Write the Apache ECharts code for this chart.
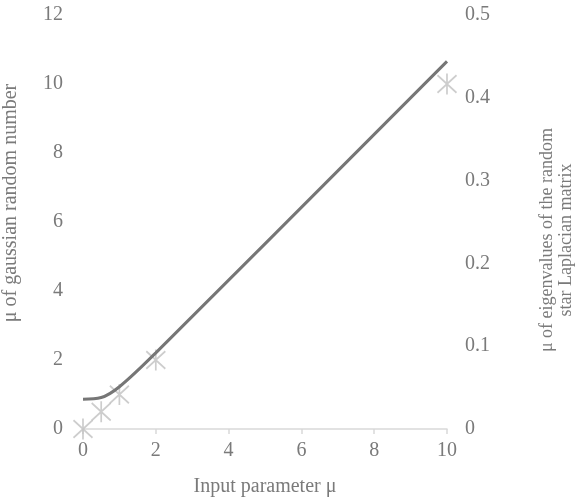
<!DOCTYPE html>
<html>
<head>
<meta charset="utf-8">
<script src="https://cdn.jsdelivr.net/npm/echarts@6/dist/echarts.min.js"></script>
<style>html,body{margin:0;padding:0;background:#fff;}#c{width:575px;height:504px;}</style>
</head>
<body>
<div id="c"></div>
<script>
// Data
var inputMu = [0, 0.5, 1, 2, 10];
var gaussianMu = [0, 0.5, 1, 2, 10];          // left axis (stars)
var eigenMu = [0.036, 0.038, 0.051, 0.092, 0.444]; // right axis (line)
var xTitle = 'Input parameter μ';
var leftTitle = 'μ of gaussian random number';
var rightTitle = ['μ of eigenvalues of the random', 'star Laplacian matrix'];

var font = '"Liberation Serif", "Times New Roman", serif';
var textColor = '#7a7a7a';

var chart = echarts.init(document.getElementById('c'));
chart.setOption({
  animation: false,
  grid: {left: 83, right: 128, top: 15, bottom: 75, containLabel: false},
  xAxis: {
    type: 'value', min: 0, max: 10, interval: 2,
    name: xTitle, nameLocation: 'middle', nameGap: 48,
    nameTextStyle: {fontFamily: font, fontSize: 20, color: textColor},
    axisLine: {show: true, lineStyle: {color: '#d9d9d9', width: 1.5}},
    axisTick: {show: true, length: 5, lineStyle: {color: '#d9d9d9', width: 1.5}},
    axisLabel: {fontFamily: font, fontSize: 20, color: textColor, margin: 12},
    splitLine: {show: false}
  },
  yAxis: [{
    type: 'value', min: 0, max: 12, interval: 2,
    axisLine: {show: false}, axisTick: {show: false}, splitLine: {show: false},
    axisLabel: {fontFamily: font, fontSize: 20, color: textColor, margin: 20}
  }, {
    type: 'value', min: 0, max: 0.5, interval: 0.1, position: 'right',
    axisLine: {show: false}, axisTick: {show: false}, splitLine: {show: false},
    axisLabel: {fontFamily: font, fontSize: 20, color: textColor, margin: 18}
  }],
  series: [{
    type: 'line', yAxisIndex: 1, smooth: 0.35, showSymbol: false, symbol: 'none',
    data: inputMu.map(function (x, i) { return [x, eigenMu[i]]; }),
    lineStyle: {color: '#767676', width: 3}
  }, {
    type: 'scatter', yAxisIndex: 0,
    symbol: 'path://M0,0 L20,20 M20,0 L0,20 M10,-2 L10,22',
    symbolSize: [19, 21],
    data: inputMu.map(function (x, i) { return [x, gaussianMu[i]]; }),
    itemStyle: {color: 'none', borderColor: '#c0c0c0', borderWidth: 1.8}
  }],
  graphic: [{
    type: 'text', x: 11, y: 203, rotation: Math.PI / 2,
    style: {text: leftTitle, font: '20px ' + font, fill: textColor, align: 'center', verticalAlign: 'middle'}
  }, {
    type: 'text', x: 557, y: 240, rotation: Math.PI / 2,
    style: {text: rightTitle.join('\n'), font: '18px ' + font, lineHeight: 19, fill: textColor, align: 'center', verticalAlign: 'middle'}
  }]
});
</script>
</body>
</html>
